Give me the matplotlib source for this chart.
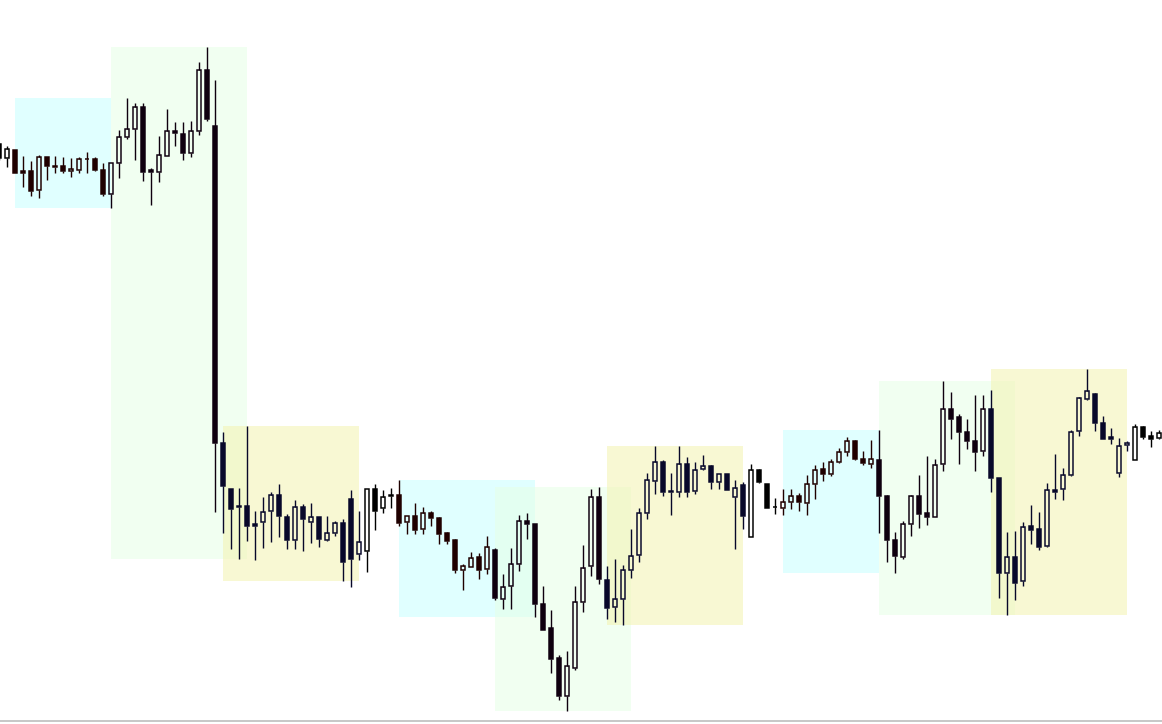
import matplotlib
matplotlib.use("Agg")
import matplotlib.pyplot as plt
from matplotlib.patches import Rectangle

# ---- data (price in points) ----
opens = [577, 563, 571, 550, 550, 531, 564, 555, 555, 550, 551, 562, 562, 551, 527, 558, 584, 592, 614, 551,
         549, 565, 590, 587, 568, 590, 651, 595, 278, 232, 215, 215, 197, 199, 210, 226, 204, 181, 214, 199,
         204, 181, 188, 198, 222, 167, 170, 232, 213, 226, 226, 199, 205, 192, 208, 203, 188, 181, 151, 154,
         164, 152, 171, 122, 135, 157, 200, 197, 117, 93, 63, 25, 53, 119, 155, 224, 141, 114, 122, 151,
         166, 208, 240, 259, 230, 229, 257, 230, 252, 255, 239, 247, 224, 236, 184, 251, 237, 214, 213, 219,
         225, 218, 237, 252, 247, 259, 269, 280, 262, 257, 261, 225, 181, 164, 197, 225, 208, 204, 257, 312,
         304, 289, 280, 270, 312, 243, 148, 164, 140, 195, 192, 175, 231, 232, 246, 290, 322, 327, 298, 284,
         248, 276, 261, 294, 285, 283]
highs = [578, 575, 571, 565, 560, 566, 564, 565, 564, 563, 564, 569, 564, 558, 558, 591, 623, 618, 618, 553,
         585, 612, 599, 599, 600, 659, 674, 641, 289, 232, 233, 295, 210, 224, 229, 237, 207, 221, 217, 218,
         204, 205, 200, 202, 231, 210, 232, 237, 231, 233, 241, 205, 218, 214, 210, 204, 189, 182, 157, 169,
         168, 185, 173, 147, 173, 206, 208, 197, 135, 111, 66, 70, 135, 176, 232, 234, 155, 162, 156, 192,
         213, 248, 275, 261, 248, 275, 264, 259, 266, 256, 247, 247, 241, 239, 257, 252, 237, 223, 232, 232,
         228, 246, 256, 259, 262, 273, 284, 281, 270, 281, 291, 226, 189, 200, 226, 246, 265, 262, 340, 329,
         307, 302, 326, 326, 331, 243, 189, 190, 199, 216, 209, 238, 267, 253, 291, 324, 352, 328, 305, 293,
         283, 280, 297, 295, 290, 291]
lows = [561, 554, 548, 534, 525, 523, 541, 548, 548, 544, 548, 548, 550, 525, 513, 543, 582, 561, 540, 516,
        539, 565, 575, 561, 564, 586, 600, 209, 188, 172, 162, 180, 161, 173, 179, 184, 172, 172, 170, 178,
        174, 180, 185, 140, 134, 161, 149, 191, 208, 213, 195, 187, 187, 187, 195, 177, 177, 148, 131, 154,
        142, 147, 121, 112, 112, 150, 182, 104, 91, 48, 21, 10, 51, 109, 145, 137, 102, 99, 96, 143,
        159, 202, 227, 225, 206, 224, 224, 227, 251, 232, 232, 231, 172, 192, 184, 238, 213, 207, 206, 212,
        210, 206, 222, 240, 245, 258, 265, 261, 256, 253, 188, 159, 148, 162, 185, 193, 196, 204, 250, 282,
        257, 272, 250, 265, 229, 123, 106, 121, 135, 177, 171, 174, 222, 221, 245, 285, 321, 290, 282, 277,
        244, 270, 261, 282, 274, 282]
closes = [563, 572, 548, 548, 530, 564, 555, 554, 550, 552, 562, 562, 551, 527, 558, 584, 592, 614, 549, 549,
          566, 590, 588, 568, 590, 651, 602, 278, 235, 212, 214, 195, 195, 209, 226, 205, 181, 214, 202, 204,
          182, 188, 198, 159, 162, 179, 232, 210, 224, 225, 198, 205, 191, 208, 203, 187, 180, 151, 155, 163,
          151, 174, 123, 134, 157, 200, 197, 117, 91, 62, 25, 55, 119, 153, 224, 142, 113, 122, 151, 165,
          208, 241, 259, 229, 229, 257, 229, 251, 255, 239, 247, 231, 233, 205, 251, 239, 213, 214, 219, 225,
          219, 237, 251, 247, 259, 269, 280, 262, 258, 262, 225, 181, 165, 197, 225, 207, 204, 256, 312, 302,
          289, 280, 269, 312, 243, 148, 164, 138, 194, 191, 174, 231, 229, 246, 289, 323, 330, 298, 282, 282,
          275, 278, 294, 284, 282, 288]

# highlighted zones: first bar index, last bar index, low, high, kind
zone_start = [2, 14, 28, 50, 62, 76, 98, 110, 124]
zone_end = [14, 31, 45, 67, 79, 93, 110, 127, 141]
zone_low = [513, 162, 140, 104, 10, 96, 148, 106, 106]
zone_high = [623, 674, 295, 241, 234, 275, 291, 340, 352]
zone_kind = ["cyan", "green", "yellow", "cyan", "green", "yellow", "cyan", "green", "yellow"]

# ---- styles ----
zone_fill = {"cyan": "#C8FFFF", "green": "#E6FFE6", "yellow": "#F3F3B0"}
zone_dark = {"cyan": "#1f0000", "green": "#0f000f", "yellow": "#08082a"}

W, H, DPI = 1162, 724, 100
fig = plt.figure(figsize=(W / DPI, H / DPI), dpi=DPI)
ax = fig.add_axes([0, 3 / H, 1, 721 / H])
ax.set_xlim(0.7 / 8, 1162.7 / 8)
ax.set_ylim(0, 721)
for s in ["top", "left", "right"]:
    ax.spines[s].set_visible(False)
ax.spines["bottom"].set_color("#bdbdbd")
ax.spines["bottom"].set_linewidth(1.2)
ax.set_xticks([])
ax.set_yticks([])

for s0, s1, lo, hi, kind in zip(zone_start, zone_end, zone_low, zone_high, zone_kind):
    ax.add_patch(Rectangle((s0, lo), s1 - s0, hi - lo, facecolor=zone_fill[kind],
                           edgecolor="none", alpha=0.55, zorder=0))

n = len(opens)
px = 72 / DPI
for i in range(n):
    o, h, l, c = opens[i], highs[i], lows[i], closes[i]
    col = "#000000"
    for s0, s1, kind in zip(zone_start, zone_end, zone_kind):
        if s0 <= i <= s1:
            col = zone_dark[kind]
    top, bot = max(o, c), min(o, c)
    ax.vlines(i, top, h, color=col, linewidth=1.4 * px, zorder=2)
    ax.vlines(i, l, bot, color=col, linewidth=1.4 * px, zorder=2)
    bull = c >= o
    ax.bar(i, max(top - bot, 0.01), bottom=bot, width=0.46,
           facecolor="none" if bull else col, edgecolor=col,
           linewidth=1.5 * px, zorder=3)

fig.savefig("out.png", dpi=DPI)
